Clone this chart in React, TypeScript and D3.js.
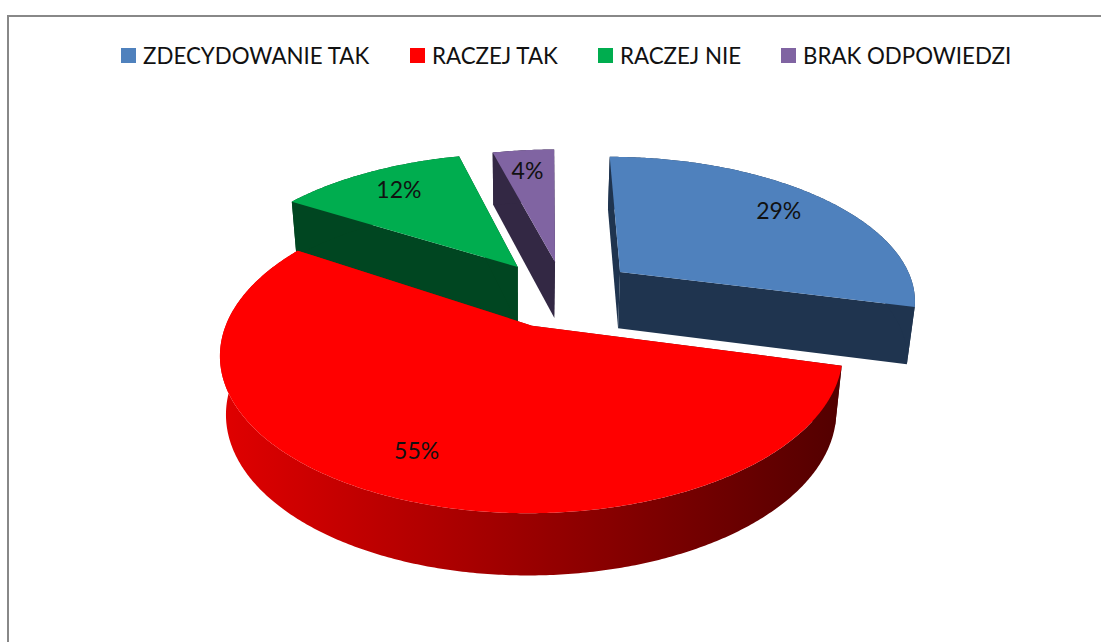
import React from "react";
import * as d3 from "d3";

// values as printed on the slices, in percent
const categories = ["ZDECYDOWANIE TAK", "RACZEJ TAK", "RACZEJ NIE", "BRAK ODPOWIEDZI"];
const shares = [29, 55, 12, 4];
const topColors = ["#4f81bd", "#ff0000", "#00ad4f", "#8064a2"];
const wallColors = ["#1f344f", "url(#redWall)", "#004621", "#332844"];

// layout of the exploded pie, in unit-disc coordinates
const explodeX = [0.244, -0.055, -0.108, 0.021];
const explodeZ = [0.173, -0.2, 0.21, 0.248];
const rimScaleX = [0.99, 0.985, 1.02, 1];
const legendX = [121, 410, 598, 781];

const width = 1101;
const height = 642;
const cx = 549;
const cy = 296;
const radiusX = 300;
const radiusY = 143;
const perspective = 0.175;
const depth = 57;
const depthPerspective = 0.07;
const vanishX = 522;
const vanishScale = 0.98;

type Pt = [number, number];

function projectTop(x: number, z: number): Pt {
	const w = 1 + perspective * z;
	return [cx + (radiusX * x) / w, cy - (radiusY * z) / w];
}

function projectBottom(x: number, z: number): Pt {
	const p = projectTop(x, z);
	return [vanishX + (p[0] - vanishX) * vanishScale, p[1] + depth / (1 + depthPerspective * z)];
}

const line = d3.line().curve(d3.curveLinearClosed);

export default function App() {
	const arcs = d3.pie<number>().value((d) => d).sort(null)(shares);

	const slices = arcs.map((a, i) => {
		const ox = explodeX[i];
		const oz = explodeZ[i];
		const angles = d3.range(a.startAngle, a.endAngle, 0.01).concat(a.endAngle);
		const rim = angles.map((t): Pt => [ox + rimScaleX[i] * Math.sin(t), oz + Math.cos(t)]);
		const topRim = rim.map((p) => projectTop(p[0], p[1]));
		const botRim = rim.map((p) => projectBottom(p[0], p[1]));
		const apexTop = projectTop(ox, oz);
		const apexBot = projectBottom(ox, oz);
		const mid = (a.startAngle + a.endAngle) / 2;
		return {
			i,
			top: line([apexTop, ...topRim]) as string,
			wall: line([...topRim, ...botRim.slice().reverse()]) as string,
			faceA: line([apexTop, topRim[0], botRim[0], apexBot]) as string,
			faceB: line([apexTop, topRim[topRim.length - 1], botRim[botRim.length - 1], apexBot]) as string,
			label: projectTop(ox + 0.78 * Math.sin(mid), oz + 0.78 * Math.cos(mid)),
			value: a.data,
		};
	});

	// far slices first, the big red one goes on top
	const order = [3, 2, 0, 1];

	return (
		<svg
			width={width}
			height={height}
			style={{ position: "absolute", left: 0, top: 0, background: "#fff" }}
			fontFamily="Lato, sans-serif"
		>
			<defs>
				<linearGradient id="redWall" gradientUnits="userSpaceOnUse" x1={222} x2={842} y1={0} y2={0}>
					<stop offset="0" stopColor="#e00000" />
					<stop offset="1" stopColor="#520000" />
				</linearGradient>
			</defs>
			<path d={`M8,${height}V16H${width}`} fill="none" stroke="#888" strokeWidth={2} />

			{categories.map((c, i) => (
				<g key={c}>
					<rect x={legendX[i]} y={48} width={15} height={15} fill={topColors[i]} />
					<text x={legendX[i] + 22} y={64} fontSize={22.3} fill="#111">
						{c}
					</text>
				</g>
			))}

			{order.map((k) => {
				const s = slices[k];
				return (
					<g key={k}>
						<path d={s.faceA} fill={wallColors[k]} />
						<path d={s.faceB} fill={wallColors[k]} />
						<path d={s.wall} fill={wallColors[k]} />
						<path d={s.top} fill={topColors[k]} />
					</g>
				);
			})}

			{slices.map((s) => (
				<text key={s.i} x={s.label[0] - 2} y={s.label[1] + 7} textAnchor="middle" fontSize={23} fill="#111">
					{s.value}%
				</text>
			))}
		</svg>
	);
}
